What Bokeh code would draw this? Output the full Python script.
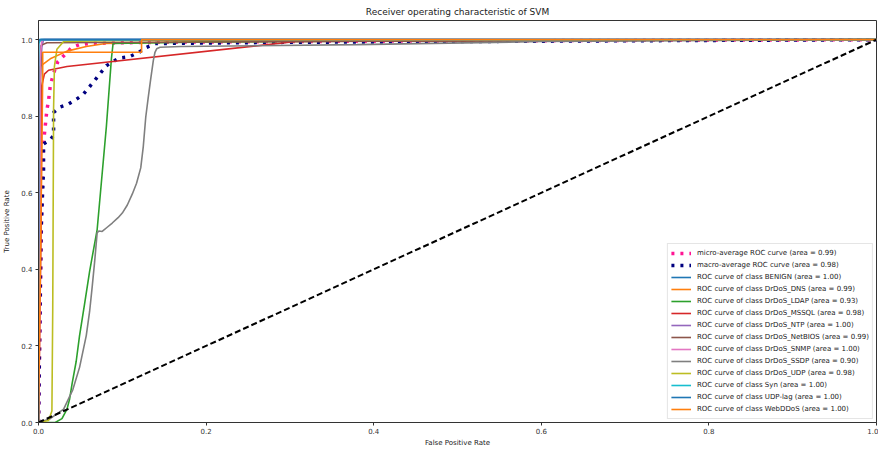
from bokeh.plotting import figure
from bokeh.models import Range1d, Legend, LegendItem, FixedTicker, PrintfTickFormatter
from bokeh.embed import file_html
from bokeh.resources import INLINE

# ---------------- data ----------------
micro_fpr = [0.0, 0.002, 0.004, 0.006, 0.008, 0.010, 0.012, 0.014, 0.018, 0.023, 0.032, 0.040, 0.049, 0.061, 0.1, 0.2, 0.4, 1.0]
micro_tpr = [0.0, 0.30, 0.60, 0.731, 0.773, 0.816, 0.841, 0.879, 0.912, 0.942, 0.962, 0.980, 0.987, 0.990, 0.992, 0.994, 0.996, 1.0]

macro_fpr = [0.0, 0.003, 0.006, 0.006, 0.014, 0.018, 0.018, 0.026, 0.035, 0.045, 0.053, 0.058, 0.069, 0.081, 0.096, 0.108, 0.120, 0.129, 0.140, 0.3, 0.6, 1.0]
macro_tpr = [0.0, 0.50, 0.66, 0.728, 0.738, 0.75, 0.81, 0.824, 0.831, 0.844, 0.856, 0.869, 0.899, 0.932, 0.952, 0.955, 0.967, 0.980, 0.990, 0.993, 0.996, 1.0]

class_names = ["BENIGN", "DrDoS_DNS", "DrDoS_LDAP", "DrDoS_MSSQL", "DrDoS_NTP", "DrDoS_NetBIOS",
               "DrDoS_SNMP", "DrDoS_SSDP", "DrDoS_UDP", "Syn", "UDP-lag", "WebDDoS"]
class_auc = [1.00, 0.99, 0.93, 0.98, 1.00, 0.99, 1.00, 0.90, 0.98, 1.00, 1.00, 1.00]
class_colors = ["#1f77b4", "#ff7f0e", "#2ca02c", "#d62728", "#9467bd", "#8c564b",
                "#e377c2", "#7f7f7f", "#bcbd22", "#17becf", "#1f77b4", "#ff7f0e"]

benign_fpr = [0.0, 0.0, 0.002, 1.0]
benign_tpr = [0.0, 0.99, 1.0, 1.0]

dns_fpr = [0.0, 0.0, 0.002, 0.014, 0.034, 0.057, 0.080, 0.2, 0.5, 1.0]
dns_tpr = [0.0, 0.85, 0.93, 0.95, 0.97, 0.982, 0.990, 0.995, 0.998, 1.0]

ldap_fpr = [0.0, 0.020, 0.028, 0.034, 0.037, 0.040, 0.045, 0.049, 0.055, 0.061, 0.070, 0.081, 0.087, 0.089, 0.2, 0.5, 1.0]
ldap_tpr = [0.0, 0.0, 0.010, 0.035, 0.060, 0.10, 0.16, 0.227, 0.31, 0.395, 0.504, 0.773, 0.95, 0.99, 0.994, 0.997, 1.0]

mssql_fpr = [0.0, 0.003, 0.004, 0.007, 0.012, 0.034, 0.307, 0.6, 1.0]
mssql_tpr = [0.0, 0.5, 0.88, 0.91, 0.92, 0.93, 0.995, 0.998, 1.0]

ntp_fpr = [0.0, 0.002, 0.004, 0.006, 1.0]
ntp_tpr = [0.0, 0.90, 0.98, 1.0, 1.0]

netbios_fpr = [0.0, 0.002, 0.003, 0.010, 0.3, 1.0]
netbios_tpr = [0.0, 0.80, 0.985, 0.992, 0.995, 1.0]

snmp_fpr = [0.0, 0.0015, 0.002, 0.004, 1.0]
snmp_tpr = [0.0, 0.30, 0.95, 1.0, 1.0]

ssdp_fpr = [0.0, 0.014, 0.030, 0.041, 0.049, 0.057, 0.061, 0.064, 0.067, 0.070, 0.072, 0.076, 0.082, 0.088, 0.095,
            0.100, 0.106, 0.112, 0.117, 0.122, 0.125, 0.128, 0.131, 0.134, 0.137, 0.139, 0.141, 0.145, 0.170, 0.380, 0.6, 1.0]
ssdp_tpr = [0.0, 0.010, 0.035, 0.086, 0.144, 0.227, 0.29, 0.353, 0.42, 0.496, 0.500, 0.499, 0.510, 0.521, 0.535,
            0.547, 0.568, 0.597, 0.625, 0.665, 0.72, 0.798, 0.85, 0.899, 0.945, 0.967, 0.976, 0.980, 0.982, 0.987, 0.995, 1.0]

udp_fpr = [0.0, 0.012, 0.016, 0.017, 0.018, 0.019, 0.022, 0.030, 0.1, 1.0]
udp_tpr = [0.0, 0.005, 0.03, 0.30, 0.82, 0.93, 0.975, 0.995, 0.998, 1.0]

syn_fpr = [0.0, 0.0, 0.003, 1.0]
syn_tpr = [0.0, 0.99, 1.0, 1.0]

udplag_fpr = [0.0, 0.0, 0.001, 1.0]
udplag_tpr = [0.0, 0.995, 1.0, 1.0]

webddos_fpr = [0.0, 0.005, 0.005, 0.123, 0.123, 1.0]
webddos_tpr = [0.0, 0.90, 0.967, 0.967, 1.0, 1.0]

class_fpr = [benign_fpr, dns_fpr, ldap_fpr, mssql_fpr, ntp_fpr, netbios_fpr,
             snmp_fpr, ssdp_fpr, udp_fpr, syn_fpr, udplag_fpr, webddos_fpr]
class_tpr = [benign_tpr, dns_tpr, ldap_tpr, mssql_tpr, ntp_tpr, netbios_tpr,
             snmp_tpr, ssdp_tpr, udp_tpr, syn_tpr, udplag_tpr, webddos_tpr]

diag_x = [0.0, 1.0]
diag_y = [0.0, 1.0]

x_ticks = [0.0, 0.2, 0.4, 0.6, 0.8, 1.0]
y_ticks = [0.0, 0.2, 0.4, 0.6, 0.8, 1.0]

FONT = "DejaVu Sans"

# ---------------- figure ----------------
p = figure(width=878, height=449, output_backend="svg", toolbar_location=None,
           x_range=Range1d(0.0, 1.0), y_range=Range1d(0.0, 1.05),
           title="Receiver operating characteristic of SVM",
           min_border_left=0, min_border_right=2, min_border_top=0, min_border_bottom=0)

p.title.align = "center"
p.title.text_font = FONT
p.title.text_font_size = "9px"
p.title.text_font_style = "normal"
p.title.text_color = "#222222"
p.title.standoff = 8
p.title.offset = 0

p.xgrid.visible = False
p.ygrid.visible = False
p.outline_line_color = "#333333"
p.outline_line_width = 1
p.outline_line_alpha = 1.0

for ax in (p.xaxis[0], p.yaxis[0]):
    ax.axis_line_color = "#333333"
    ax.major_tick_line_color = "#333333"
    ax.major_tick_out = 3
    ax.major_tick_in = 0
    ax.minor_tick_line_color = None
    ax.major_label_text_font = FONT
    ax.major_label_text_font_size = "7px"
    ax.major_label_text_color = "#333333"
    ax.axis_label_text_font = FONT
    ax.axis_label_text_font_size = "7px"
    ax.axis_label_text_font_style = "normal"
    ax.axis_label_text_color = "#222222"
    ax.major_label_standoff = 2
    ax.axis_label_standoff = 2
    ax.formatter = PrintfTickFormatter(format="%.1f")

p.yaxis[0].major_label_standoff = 3
p.yaxis[0].axis_label_standoff = 7
p.xaxis[0].ticker = FixedTicker(ticks=x_ticks)
p.yaxis[0].ticker = FixedTicker(ticks=y_ticks)
p.xaxis[0].axis_label = "False Positive Rate"
p.yaxis[0].axis_label = "True Positive Rate"

items = []
r = p.line(micro_fpr, micro_tpr, line_color="deeppink", line_width=3.5, line_dash="3 6")
items.append(LegendItem(label="micro-average ROC curve (area = 0.99)", renderers=[r]))
r = p.line(macro_fpr, macro_tpr, line_color="navy", line_width=3.5, line_dash="3 6")
items.append(LegendItem(label="macro-average ROC curve (area = 0.98)", renderers=[r]))

for name, auc, col, fx, fy in zip(class_names, class_auc, class_colors, class_fpr, class_tpr):
    r = p.line(fx, fy, line_color=col, line_width=1.6)
    items.append(LegendItem(label="ROC curve of class %s (area = %.2f)" % (name, auc), renderers=[r]))

p.line(diag_x, diag_y, line_color="black", line_width=2, line_dash="6 3")

legend = Legend(items=items, location="bottom_right")
legend.label_text_font = FONT
legend.label_text_font_size = "7px"
legend.label_text_color = "#222222"
legend.glyph_height = 12
legend.glyph_width = 20
legend.label_height = 12
legend.label_standoff = 6
legend.spacing = 0
legend.padding = 3
legend.margin = 3
legend.border_line_color = "#cccccc"
legend.background_fill_alpha = 0.85
p.add_layout(legend)

open("out.html", "w").write(file_html(p, INLINE))
